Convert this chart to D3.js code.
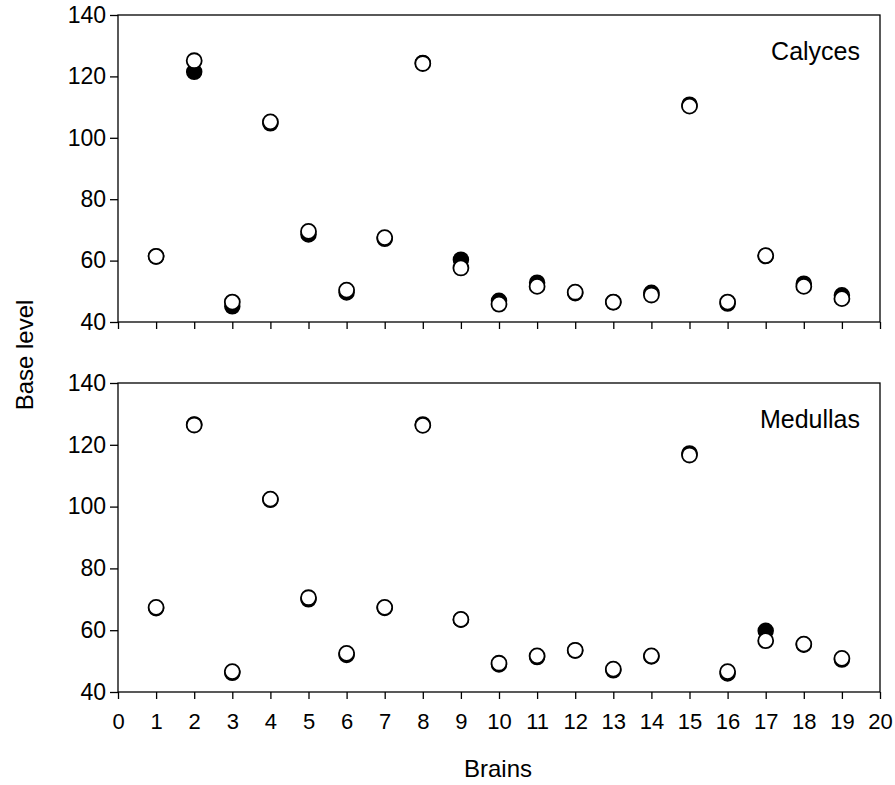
<!DOCTYPE html>
<html>
<head>
<meta charset="utf-8">
<script src="https://cdn.jsdelivr.net/npm/d3@7"></script>
<style>
  html, body { margin: 0; padding: 0; background: #fff; }
  svg { display: block; font-family: "Liberation Sans", Arial, sans-serif; }
</style>
</head>
<body>
<svg id="chart" width="895" height="785"></svg>
<script>
// brains 1..19, two measurements each (filled = first, open = second)
const brains = d3.range(1, 20);

const calycesFilled = [61.3, 121.5, 45.1, 104.7, 68.5, 49.6, 67.1, 124.4, 60.3, 46.9, 52.8, 49.4, 46.4, 49.5, 110.8, 46.0, 61.5, 52.5, 48.7];
const calycesOpen   = [61.4, 125.1, 46.5, 105.2, 69.5, 50.4, 67.5, 124.2, 57.6, 45.8, 51.6, 49.7, 46.5, 48.8, 110.3, 46.5, 61.6, 51.6, 47.6];

const medullasFilled = [67.1, 126.6, 46.2, 102.2, 70.0, 52.0, 67.2, 126.6, 63.4, 48.9, 51.3, 53.4, 47.0, 51.5, 117.2, 46.0, 59.8, 55.3, 50.5];
const medullasOpen   = [67.4, 126.4, 46.6, 102.4, 70.5, 52.5, 67.4, 126.3, 63.5, 49.3, 51.7, 53.5, 47.4, 51.7, 116.7, 46.6, 56.6, 55.5, 50.9];

const xTicks = d3.range(0, 21);
const yTicks = [40, 60, 80, 100, 120, 140];

const panels = [
  { name: 'Calyces', filled: calycesFilled, open: calycesOpen, top: 15, bottom: 322, labels: false },
  { name: 'Medullas', filled: medullasFilled, open: medullasOpen, top: 383, bottom: 692, labels: true },
];

const svg = d3.select('#chart');
const left = 118;
const right = 880;

const x = d3.scaleLinear().domain([0, 20]).range([left, right]);

panels.forEach((p) => {
  const y = d3.scaleLinear().domain([40, 140]).range([p.bottom, p.top]);
  const g = svg.append('g');

  // frame
  g.append('rect')
    .attr('x', left)
    .attr('y', p.top)
    .attr('width', right - left)
    .attr('height', p.bottom - p.top)
    .attr('fill', 'none')
    .attr('stroke', '#000')
    .attr('stroke-width', 1.3);

  const yAxis = g.append('g')
    .attr('transform', `translate(${left},0)`)
    .call(d3.axisLeft(y).tickValues(yTicks).tickSize(8).tickSizeOuter(0).tickPadding(4));

  const xAxis = g.append('g')
    .attr('transform', `translate(0,${p.bottom})`)
    .call(d3.axisBottom(x).tickValues(xTicks).tickSize(7).tickSizeOuter(0).tickPadding(14)
      .tickFormat(p.labels ? d3.format('d') : () => ''));

  [yAxis, xAxis].forEach((a) => {
    a.select('.domain').remove();
    a.selectAll('line').attr('stroke', '#000').attr('stroke-width', 1.3);
    a.selectAll('text').attr('fill', '#000')
      .attr('font-family', '"Liberation Sans", Arial, sans-serif');
  });
  yAxis.selectAll('text').attr('font-size', 23);
  xAxis.selectAll('text').attr('font-size', 22);

  g.append('g')
    .selectAll('circle')
    .data(brains)
    .join('circle')
    .attr('cx', (d) => x(d))
    .attr('cy', (d, i) => y(p.filled[i]))
    .attr('r', 7.5)
    .attr('fill', '#000')
    .attr('stroke', '#000')
    .attr('stroke-width', 1.5);

  g.append('g')
    .selectAll('circle')
    .data(brains)
    .join('circle')
    .attr('cx', (d) => x(d))
    .attr('cy', (d, i) => y(p.open[i]))
    .attr('r', 7.5)
    .attr('fill', '#fff')
    .attr('stroke', '#000')
    .attr('stroke-width', 1.8);

  g.append('text')
    .attr('x', 860)
    .attr('y', p.top + 45)
    .attr('text-anchor', 'end')
    .attr('font-size', 25)
    .text(p.name);
});

svg.append('text')
  .attr('transform', 'translate(33,355) rotate(-90)')
  .attr('text-anchor', 'middle')
  .attr('font-size', 24)
  .text('Base level');

svg.append('text')
  .attr('x', 498)
  .attr('y', 777)
  .attr('text-anchor', 'middle')
  .attr('font-size', 24)
  .text('Brains');
</script>
</body>
</html>
